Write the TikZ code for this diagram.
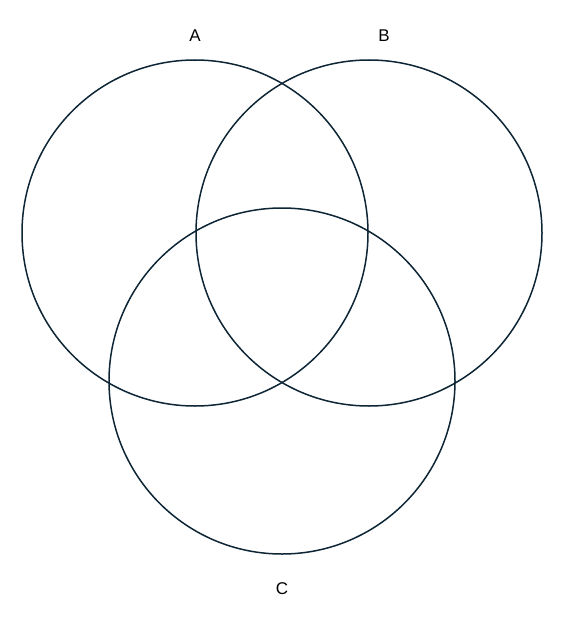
\documentclass[tikz,border=0pt]{standalone}
\usepackage{fontspec}
\setmainfont{Liberation Sans}
\definecolor{ln}{HTML}{0D2535}
\begin{document}
\begin{tikzpicture}[x=1pt,y=-1pt,circ/.style={draw=ln,line width=1.5pt,circle,minimum size=346pt,inner sep=0pt},lab/.style={font=\fontsize{17}{19}\selectfont}]
\useasboundingbox (0,0) rectangle (565,626);
\node[circ] (a) at (195,233) {};
\node[circ] (b) at (369,233) {};
\node[circ] (c) at (282,381) {};
\node[lab] (la) at (195,36) {A};
\node[lab] (lb) at (384,36) {B};
\node[lab] (lc) at (282,589) {C};
\end{tikzpicture}
\end{document}
